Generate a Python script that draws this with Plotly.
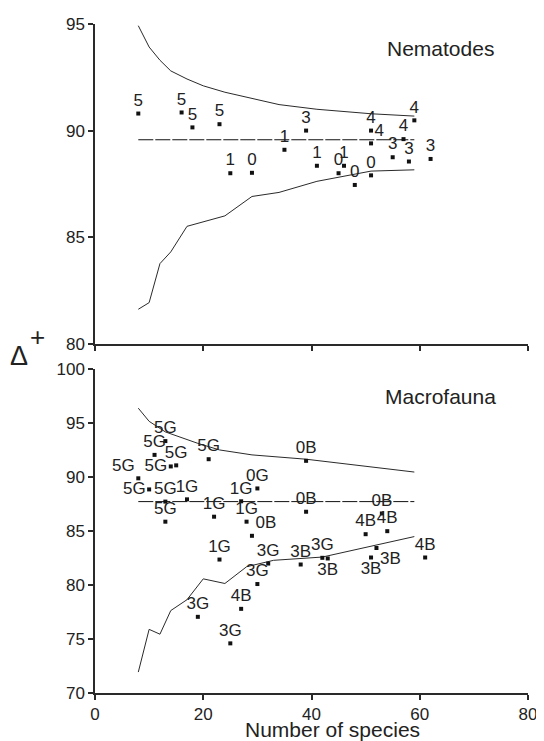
import plotly.graph_objects as go

# ---------------- Nematodes (top panel) ----------------
nem_species = [8, 16, 18, 23, 25, 29, 35, 39, 41, 45, 46, 48, 51, 51, 51, 55, 57, 58, 59, 62]
nem_delta = [90.8, 90.85, 90.15, 90.3, 88.0, 88.02, 89.1, 90.0, 88.35, 88.0, 88.35, 87.45,
             87.9, 90.0, 89.4, 88.75, 89.6, 88.55, 90.48, 88.67]
nem_labels = ["5", "5", "5", "5", "1", "0", "1", "3", "1", "0", "1", "0",
              "0", "4", "4", "3", "4", "3", "4", "3"]
nem_textpos = ["top center"] * 20
nem_textpos[14] = "top right"

nem_mean = 89.57
nem_mean_x = [8, 59]

nem_upper_x = [8, 10, 12, 14, 17, 20, 24, 29, 34, 41, 51, 59]
nem_upper_y = [94.92, 93.92, 93.3, 92.8, 92.42, 92.1, 91.8, 91.5, 91.22, 91.0, 90.79, 90.68]
nem_lower_x = [8, 10, 12, 14, 17, 24, 29, 34, 41, 48, 51, 59]
nem_lower_y = [81.62, 81.93, 83.76, 84.31, 85.51, 86.0, 86.91, 87.1, 87.62, 87.98, 88.1, 88.16]

# ---------------- Macrofauna (bottom panel) ----------------
mac_species = [13, 11, 21, 39, 14, 15, 8, 10, 13, 17, 13, 22, 27, 30, 28, 29,
               39, 53, 50, 54, 23, 32, 38, 42, 43, 51, 52, 61, 30, 27, 19, 25]
mac_delta = [93.35, 92.07, 91.67, 91.52, 91.0, 91.1, 89.9, 88.87, 87.74, 87.95, 85.88, 86.34,
             87.77, 88.96, 85.88, 84.57, 86.8, 86.64, 84.72, 85.0, 82.37, 82.0, 81.91, 82.53,
             82.47, 82.56, 83.44, 82.56, 80.1, 77.8, 77.06, 74.6]
mac_labels = ["5G", "5G", "5G", "0B", "5G", "5G", "5G", "5G", "5G", "1G", "5G", "1G",
              "1G", "0G", "1G", "0B", "0B", "0B", "4B", "4B", "1G", "3G", "3B", "3G",
              "3B", "3B", "3B", "4B", "3G", "4B", "3G", "3G"]
mac_textpos = ["top center"] * 32
mac_textpos[4] = "middle left"
mac_textpos[6] = "top left"
mac_textpos[7] = "middle left"
mac_textpos[15] = "top right"
mac_textpos[24] = "bottom center"
mac_textpos[25] = "bottom center"
mac_textpos[26] = "bottom right"

mac_mean = 87.74
mac_mean_x = [8, 59]

mac_upper_x = [8, 10, 13, 19, 23, 29, 39, 59]
mac_upper_y = [96.4, 95.18, 94.2, 93.14, 92.53, 92.07, 91.67, 90.48]
mac_lower_x = [8, 10, 12, 14, 17, 20, 24, 28, 33, 36, 42, 59]
mac_lower_y = [71.94, 75.9, 75.45, 77.64, 78.65, 80.58, 80.15, 81.7, 82.3, 82.4, 82.6, 84.5]

x_ticks = [0, 20, 40, 60, 80]
nem_y_ticks = [80, 85, 90, 95]
mac_y_ticks = [70, 75, 80, 85, 90, 95, 100]

FONT = "Liberation Sans, Arial, sans-serif"
INK = "#222222"
LINE = "#2a2a2a"

fig = go.Figure()


def add_panel(xa, ya, sp, dl, lab, tpos, mean, mean_x, ux, uy, lx, ly):
    fig.add_trace(go.Scatter(x=ux, y=uy, mode="lines", line=dict(color=LINE, width=1),
                             xaxis=xa, yaxis=ya, showlegend=False, hoverinfo="skip"))
    fig.add_trace(go.Scatter(x=lx, y=ly, mode="lines", line=dict(color=LINE, width=1),
                             xaxis=xa, yaxis=ya, showlegend=False, hoverinfo="skip"))
    fig.add_trace(go.Scatter(x=mean_x, y=[mean, mean], mode="lines",
                             line=dict(color="#111111", width=1, dash="15px,2px"),
                             xaxis=xa, yaxis=ya, showlegend=False, hoverinfo="skip"))
    fig.add_trace(go.Scatter(x=sp, y=dl, mode="markers+text", text=lab, textposition=tpos,
                             textfont=dict(family=FONT, size=17, color=INK),
                             marker=dict(symbol="square", size=4, color="#111111"),
                             cliponaxis=False,
                             xaxis=xa, yaxis=ya, showlegend=False))


add_panel("x", "y", nem_species, nem_delta, nem_labels, nem_textpos, nem_mean, nem_mean_x,
          nem_upper_x, nem_upper_y, nem_lower_x, nem_lower_y)
add_panel("x2", "y2", mac_species, mac_delta, mac_labels, mac_textpos, mac_mean, mac_mean_x,
          mac_upper_x, mac_upper_y, mac_lower_x, mac_lower_y)

axis_common = dict(showgrid=False, zeroline=False, showline=True, linecolor=LINE, linewidth=1.5,
                   ticks="outside", ticklen=5, tickwidth=1.5, tickcolor=LINE,
                   ticklabeloverflow="allow",
                   tickfont=dict(family=FONT, size=17, color=INK))

# the page body adds an 8px offset, so the figure is 8px smaller and margins are shifted
fig.update_layout(
    width=536, height=733,
    margin=dict(l=87, r=9, t=7, b=48),
    paper_bgcolor="white", plot_bgcolor="white",
    font=dict(family=FONT, color=INK),
    xaxis=dict(axis_common, range=[0, 80], tickvals=x_ticks, showticklabels=False,
               domain=[0, 1], anchor="y"),
    yaxis=dict(axis_common, range=[80, 95], tickvals=nem_y_ticks, domain=[0.522, 1], anchor="x"),
    xaxis2=dict(axis_common, range=[0, 80], tickvals=x_ticks, domain=[0, 1], anchor="y2"),
    yaxis2=dict(axis_common, range=[70, 100], tickvals=mac_y_ticks, domain=[0, 0.4838], anchor="x2"),
    annotations=[
        dict(text="Nematodes", x=74, y=93.84, xref="x", yref="y", xanchor="right",
             yanchor="middle", showarrow=False, font=dict(family=FONT, size=21, color=INK)),
        dict(text="Macrofauna", x=74.5, y=97.44, xref="x2", yref="y2", xanchor="right",
             yanchor="middle", showarrow=False, font=dict(family=FONT, size=21, color=INK)),
        dict(text="Number of species", x=0.548, y=-0.0546, xref="paper", yref="paper",
             xanchor="center", yanchor="middle", showarrow=False,
             font=dict(family=FONT, size=21, color=INK)),
        dict(text="Δ", x=-0.175, y=0.503, xref="paper", yref="paper", xanchor="center",
             yanchor="middle", showarrow=False, font=dict(family=FONT, size=27, color=INK)),
        dict(text="+", x=-0.132, y=0.532, xref="paper", yref="paper", xanchor="center",
             yanchor="middle", showarrow=False, font=dict(family=FONT, size=26, color=INK)),
    ],
)

fig.write_html("out.html")
